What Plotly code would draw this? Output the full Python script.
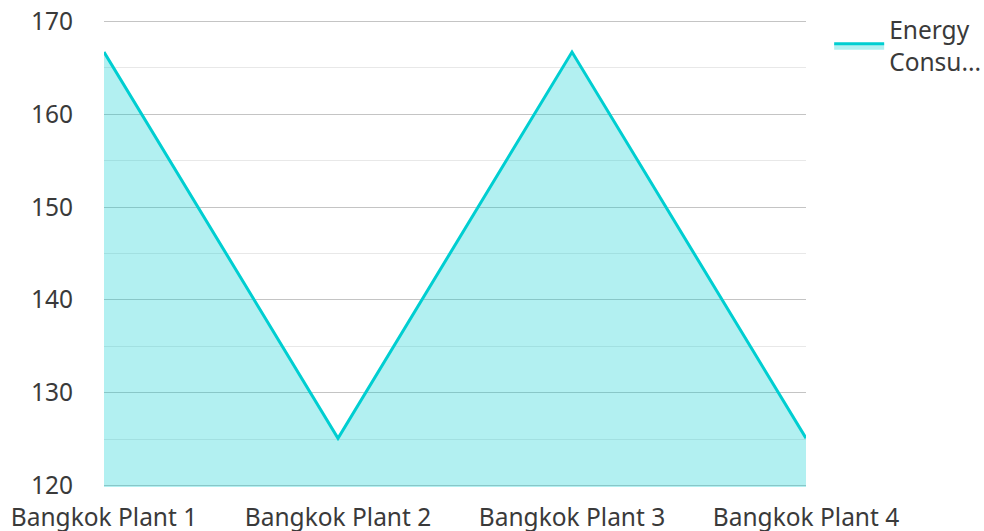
import plotly.graph_objects as go

categories = ["Bangkok Plant 1", "Bangkok Plant 2", "Bangkok Plant 3", "Bangkok Plant 4"]
energy = [166.7, 125.1, 166.7, 125.1]
series_name = "Energy<br>Consu..."
y_ticks = [120, 130, 140, 150, 160, 170]

font_family = "Noto Sans, Open Sans, sans-serif"
text_color = "#3a3a3a"
fs = 24.5

fig = go.Figure()
fig.add_trace(go.Scatter(
    x=categories, y=energy, name=series_name,
    mode="lines", line=dict(color="#00CED1", width=3),
    fill="tozeroy", fillcolor="rgba(0,206,209,0.3)",
))

fig.update_layout(
    width=984, height=531,
    margin=dict(l=104, r=178, t=20, b=44, autoexpand=False),
    paper_bgcolor="white", plot_bgcolor="white",
    font=dict(family=font_family, size=fs, color=text_color),
    showlegend=True,
    legend=dict(x=1.033, y=1.027, xanchor="left", yanchor="top",
                font=dict(size=fs, color=text_color), itemwidth=50,
                bgcolor="rgba(0,0,0,0)"),
    xaxis=dict(type="category", range=[0, 3], showgrid=False, zeroline=False,
               showline=False, ticks="outside", ticklen=9,
               tickcolor="rgba(0,0,0,0)", automargin=False,
               tickfont=dict(size=fs)),
    yaxis=dict(range=[119.85, 170.15], tickvals=y_ticks, showgrid=True,
               gridcolor="#c4c4c4", gridwidth=1, zeroline=False, showline=False,
               ticks="outside", ticklen=25, tickcolor="rgba(0,0,0,0)",
               automargin=False, tickfont=dict(size=fs),
               minor=dict(dtick=5, showgrid=True, gridcolor="#e8e8e8", gridwidth=1)),
)

fig.write_html("out.html")
